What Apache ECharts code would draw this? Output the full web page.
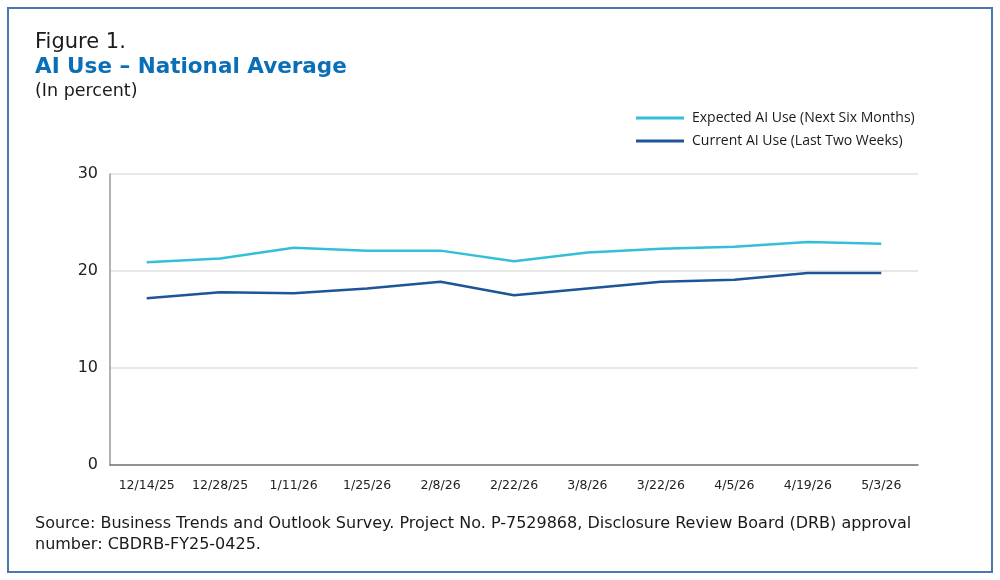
<!DOCTYPE html>
<html>
<head>
<meta charset="utf-8">
<script src="https://cdn.jsdelivr.net/npm/echarts@6/dist/echarts.min.js"></script>
<style>
    html, body { margin: 0; padding: 0; background: #fff; }
    #frame {
        position: absolute; left: 7px; top: 7px; width: 982px; height: 562px;
        border: 2px solid #4a78b0; box-sizing: content-box;
    }
    #chart { position: absolute; left: 0; top: 0; width: 1000px; height: 580px; }
</style>
</head>
<body>
<div id="frame"></div>
<div id="chart"></div>
<script>
// 日期类别
var dates = ['12/14/25', '12/28/25', '1/11/26', '1/25/26', '2/8/26', '2/22/26',
    '3/8/26', '3/22/26', '4/5/26', '4/19/26', '5/3/26'];
// 预期使用 (未来六个月)
var expectedUse = [20.9, 21.3, 22.4, 22.1, 22.1, 21.0, 21.9, 22.3, 22.5, 23.0, 22.8];
// 当前使用 (最近两周)
var currentUse = [17.2, 17.8, 17.7, 18.2, 18.9, 17.5, 18.2, 18.9, 19.1, 19.8, 19.8];
var yTicks = [0, 10, 20, 30];

var textFont = 'DejaVu Sans';

function addLine(name, data, color) {
    this.name = name;
    this.type = 'line';
    this.data = data;
    this.symbol = 'none';
    this.lineStyle = {color: color, width: 2.5};
    this.itemStyle = {color: color};
}

var option = {
    animation: false,
    title: [
        {text: 'Figure 1.', left: 35, top: 32, padding: 0,
            textStyle: {fontFamily: textFont, fontSize: 21, fontWeight: 'normal', color: '#1a1a1a'}},
        {text: 'AI Use \u2013 National Average', left: 35, top: 56, padding: 0,
            textStyle: {fontFamily: textFont, fontSize: 21.5, fontWeight: 'bold', color: '#0b6fb8'}},
        {text: '(In percent)', left: 35, top: 82, padding: 0,
            textStyle: {fontFamily: textFont, fontSize: 17.5, fontWeight: 'normal', color: '#1a1a1a'}},
        {text: 'Source: Business Trends and Outlook Survey. Project No. P-7529868, Disclosure Review Board (DRB) approval\nnumber: CBDRB-FY25-0425.',
            left: 35, top: 513, padding: 0,
            textStyle: {fontFamily: textFont, fontSize: 16, fontWeight: 'normal', color: '#1a1a1a', lineHeight: 21}}
    ],
    legend: {
        orient: 'vertical',
        left: 631,
        top: 106,
        itemWidth: 48,
        itemHeight: 3,
        itemGap: 9,
        icon: 'rect',
        textStyle: {fontFamily: 'Open Sans', fontSize: 14, color: '#1a1a1a', padding: [0, 0, 0, 3]},
        data: ['Expected AI Use (Next Six Months)', 'Current AI Use (Last Two Weeks)']
    },
    grid: {left: 110, right: 82, top: 174, bottom: 115, containLabel: false},
    xAxis: {
        type: 'category',
        boundaryGap: true,
        data: dates,
        axisLine: {lineStyle: {color: '#777', width: 1.5}},
        axisTick: {alignWithLabel: true, interval: 0, length: 7, lineStyle: {color: '#555'}},
        axisLabel: {interval: 0, fontFamily: 'DejaVu Sans', fontSize: 12.5, color: '#222', margin: 14}
    },
    yAxis: {
        type: 'value',
        min: yTicks[0],
        max: yTicks[yTicks.length - 1],
        interval: 10,
        axisLine: {show: true, lineStyle: {color: '#999', width: 1.5}},
        axisTick: {show: false},
        splitLine: {lineStyle: {color: '#e0e0e0', width: 1.5}},
        axisLabel: {fontFamily: 'DejaVu Sans', fontSize: 16, color: '#222', margin: 12}
    },
    series: [
        new addLine('Expected AI Use (Next Six Months)', expectedUse, '#33bfd9'),
        new addLine('Current AI Use (Last Two Weeks)', currentUse, '#1d5596')
    ]
};

var myChart = echarts.init(document.getElementById('chart'));
myChart.setOption(option);
</script>
</body>
</html>
